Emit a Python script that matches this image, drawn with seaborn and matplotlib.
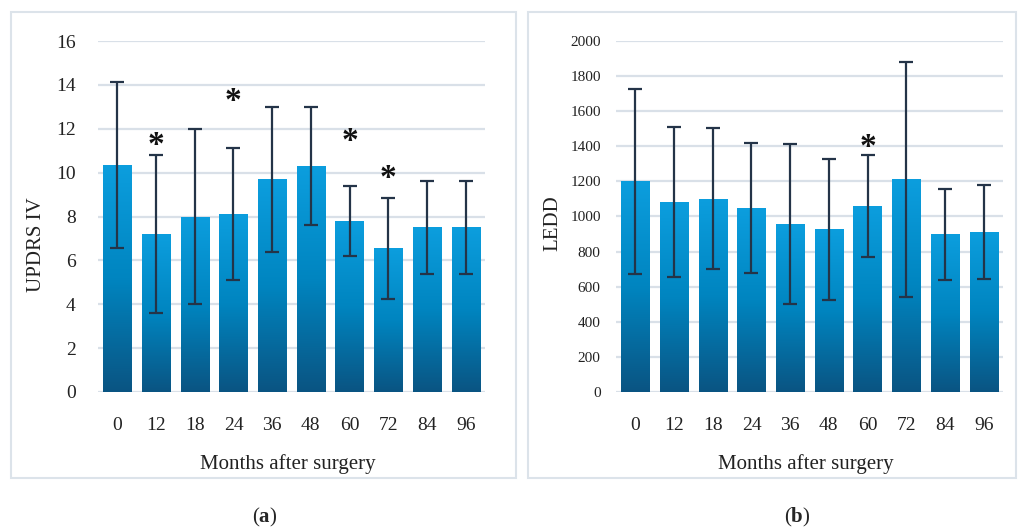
import numpy as np
import pandas as pd
import matplotlib
matplotlib.use("Agg")
import matplotlib.pyplot as plt
import seaborn as sns
from matplotlib.colors import LinearSegmentedColormap
from matplotlib.patches import Rectangle
from matplotlib.transforms import offset_copy

months = ["0", "12", "18", "24", "36", "48", "60", "72", "84", "96"]
updrs_mean = [10.35, 7.2, 8.0, 8.1, 9.7, 10.3, 7.8, 6.55, 7.5, 7.5]
updrs_sd = [3.8, 3.6, 4.0, 3.0, 3.3, 2.7, 1.6, 2.3, 2.1, 2.1]
updrs_star = ["12", "24", "60", "72"]
updrs_star_y = [11.5, 13.5, 11.7, 10.0]
ledd_mean = [1200, 1082, 1102, 1047, 957, 926, 1058, 1212, 898, 912]
ledd_sd = [527, 426, 403, 370, 455, 400, 290, 670, 257, 267]
ledd_star = ["60"]
ledd_star_y = [1428]

sns.set_theme(style="white")
plt.rcParams["font.family"] = ["Liberation Serif", "DejaVu Serif"]
plt.rcParams["mathtext.fontset"] = "custom"
plt.rcParams["mathtext.rm"] = "Liberation Serif"
plt.rcParams["mathtext.bf"] = "Liberation Serif:bold"

W, H = 1019, 532
fig = plt.figure(figsize=(W / 100, H / 100), dpi=100)
fig.patch.set_facecolor("white")

# panel frames
for (x0, x1) in [(11, 516), (528, 1016)]:
    fig.patches.append(Rectangle((x0 / W, 1 - 478 / H), (x1 - x0) / W, (478 - 12) / H,
                                 transform=fig.transFigure, fill=False,
                                 edgecolor="#DCE3EA", linewidth=1.5, zorder=0))

cmap = LinearSegmentedColormap.from_list("bar", ["#0A5482", "#0085C0", "#0C9EDE"])
grid_c = "#D9E0E8"
err_c = "#243448"


def panel(rect, means, sds, ylim, ticks, ylabel, stars, stars_y, tick_fs, tick_pad, ylab_xy):
    ax = fig.add_axes(rect)
    df = pd.DataFrame({"Months": months, "Value": means})
    sns.barplot(data=df, x="Months", y="Value", order=months, ax=ax,
                color="#0085C0", width=0.73, errorbar=None, zorder=2)
    xs = []
    for p in ax.patches:
        x0, w, h = p.get_x(), p.get_width(), p.get_height()
        xs.append(x0 + w / 2)
        p.set_facecolor("none")
        p.set_edgecolor("none")
        grad = np.linspace(0, 1, 256).reshape(-1, 1)
        im = ax.imshow(grad, cmap=cmap, origin="lower", aspect="auto",
                       extent=[x0, x0 + w, 0, h], zorder=2, interpolation="bicubic")
        im.set_clip_path(p)
    ax.errorbar(xs, means, yerr=sds, fmt="none", ecolor=err_c, elinewidth=1.6,
                capsize=5, capthick=1.6, zorder=3)
    star_tr = offset_copy(ax.transData, fig=fig, x=0, y=-6, units="dots")
    for m, yv in zip(stars, stars_y):
        ax.text(months.index(m), yv, "*", ha="center", va="center", transform=star_tr,
                fontsize=24, fontweight="bold", color="#111111", zorder=4)
    ax.set_xlim(-0.5, len(months) - 0.5)
    ax.set_ylim(*ylim)
    ax.set_yticks(ticks)
    ax.set_yticklabels([str(t) for t in ticks])
    ax.yaxis.grid(True, color=grid_c, linewidth=1.6, zorder=0)
    ax.set_axisbelow(True)
    ax.xaxis.grid(False)
    for s in ax.spines.values():
        s.set_visible(False)
    ax.tick_params(axis="y", length=0, pad=tick_pad, labelsize=tick_fs, colors="#222222")
    ax.tick_params(axis="x", length=0, pad=18, labelsize=14, colors="#222222")
    ax.set_xlabel("Months after surgery", fontsize=15, color="#222222")
    ax.xaxis.set_label_coords(0.49, -0.178)
    ax.set_ylabel(ylabel, fontsize=15, color="#222222")
    ax.yaxis.set_label_coords(*ylab_xy)
    ax.set_facecolor("white")
    return ax


panel([98 / W, 1 - 392 / H, 387 / W, 351 / H], updrs_mean, updrs_sd, (0, 16),
      list(range(0, 17, 2)), "UPDRS IV", updrs_star, updrs_star_y, 14, 16, (-0.135, 0.42))
panel([616 / W, 1 - 392 / H, 387 / W, 351 / H], ledd_mean, ledd_sd, (0, 2000),
      list(range(0, 2001, 200)), "LEDD", ledd_star, ledd_star_y, 11, 11, (-0.138, 0.48))

fig.text(265 / W, 1 - 517 / H, r"($\mathbf{a}$)", ha="center", va="center", fontsize=15)
fig.text(797 / W, 1 - 517 / H, r"($\mathbf{b}$)", ha="center", va="center", fontsize=15)

fig.savefig("out.png", dpi=100, facecolor="white")
